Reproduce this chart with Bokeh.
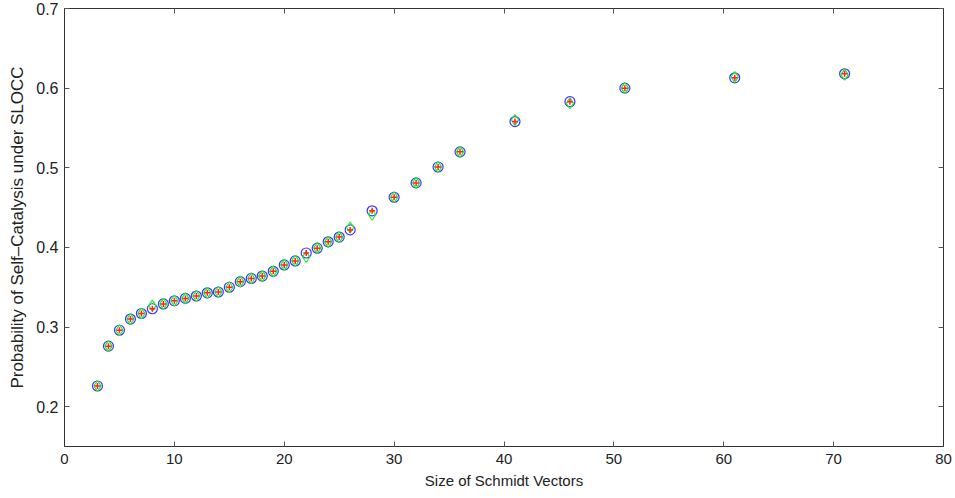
from bokeh.plotting import figure
from bokeh.models import LinearAxis, Range1d, FixedTicker, CustomJSTickFormatter
from bokeh.embed import file_html
from bokeh.resources import INLINE

# Data
sizes = [3, 4, 5, 6, 7, 8, 9, 10, 11, 12, 13, 14, 15, 16, 17, 18, 19, 20, 21, 22,
         23, 24, 25, 26, 28, 30, 32, 34, 36, 41, 46, 51, 61, 71]
prob_blue = [0.226, 0.276, 0.296, 0.310, 0.317, 0.323, 0.329, 0.333, 0.336, 0.339,
             0.343, 0.344, 0.350, 0.357, 0.361, 0.364, 0.370, 0.378, 0.383, 0.393,
             0.399, 0.407, 0.413, 0.422, 0.446, 0.463, 0.481, 0.501, 0.520, 0.558,
             0.583, 0.600, 0.613, 0.618]
prob_green = [0.226, 0.276, 0.296, 0.310, 0.317, 0.327, 0.329, 0.333, 0.336, 0.339,
              0.343, 0.344, 0.350, 0.357, 0.361, 0.364, 0.370, 0.378, 0.383, 0.388,
              0.399, 0.407, 0.413, 0.425, 0.441, 0.463, 0.481, 0.501, 0.520, 0.560,
              0.581, 0.600, 0.614, 0.617]
prob_red = [0.226, 0.276, 0.296, 0.310, 0.317, 0.323, 0.329, 0.333, 0.336, 0.339,
            0.343, 0.344, 0.350, 0.357, 0.361, 0.364, 0.370, 0.378, 0.383, 0.393,
            0.399, 0.407, 0.413, 0.422, 0.446, 0.463, 0.481, 0.501, 0.520, 0.558,
            0.583, 0.600, 0.613, 0.618]
x_ticks = [0, 10, 20, 30, 40, 50, 60, 70, 80]
y_ticks = [0.2, 0.3, 0.4, 0.5, 0.6, 0.7]

FONT = "Liberation Sans"

p = figure(width=955, height=498, output_backend="svg", toolbar_location=None,
           x_range=Range1d(0, 80), y_range=Range1d(0.15, 0.7))
p.min_border_left = 64
p.min_border_right = 12
p.min_border_top = 8
p.min_border_bottom = 52
p.grid.visible = False
p.outline_line_color = "#333333"
p.outline_line_width = 1
p.background_fill_color = "white"
p.border_fill_color = "white"

p.xaxis.ticker = FixedTicker(ticks=x_ticks)
p.yaxis.ticker = FixedTicker(ticks=y_ticks)
p.xaxis.axis_label = "Size of Schmidt Vectors"
p.yaxis.axis_label = "Probability of Self\u2013Catalysis under SLOCC"

for ax in p.xaxis + p.yaxis:
    ax.major_tick_in = 5
    ax.major_tick_out = 0
    ax.minor_tick_line_color = None
    ax.axis_line_color = "#333333"
    ax.major_tick_line_color = "#555555"
    ax.major_label_text_font = FONT
    ax.major_label_text_color = "#222222"
    ax.axis_label_text_font = FONT
    ax.axis_label_text_font_style = "normal"
    ax.axis_label_text_color = "#222222"
p.xaxis.major_label_text_font_size = "15px"
p.yaxis.major_label_text_font_size = "16px"
p.xaxis.axis_label_text_font_size = "15px"
p.yaxis.axis_label_text_font_size = "17px"
p.xaxis.major_label_standoff = 7
p.xaxis.axis_label_standoff = 5
p.yaxis.major_label_standoff = 6
p.yaxis.axis_label_standoff = 6

# mirrored axes (ticks only, no labels)
blank = CustomJSTickFormatter(code="return '';")
top = LinearAxis(ticker=FixedTicker(ticks=x_ticks), formatter=blank,
                 major_tick_in=5, major_tick_out=0, minor_tick_line_color=None,
                 axis_line_color="#333333", major_tick_line_color="#555555",
                 major_label_standoff=0)
right = LinearAxis(ticker=FixedTicker(ticks=y_ticks), formatter=blank,
                   major_tick_in=5, major_tick_out=0, minor_tick_line_color=None,
                   axis_line_color="#333333", major_tick_line_color="#555555",
                   major_label_standoff=0)
p.add_layout(top, "above")
p.add_layout(right, "right")

p.scatter(sizes, prob_blue, marker="circle", size=10, fill_color=None,
          line_color="#3838ff", line_width=1.2)
p.scatter(sizes, prob_green, marker="diamond", size=11, fill_color=None,
          line_color="#22ee22", line_width=1.2)
p.scatter(sizes, prob_red, marker="cross", size=6, line_color="#ff2222",
          line_width=1.5)

open("out.html", "w").write(file_html(p, INLINE))
